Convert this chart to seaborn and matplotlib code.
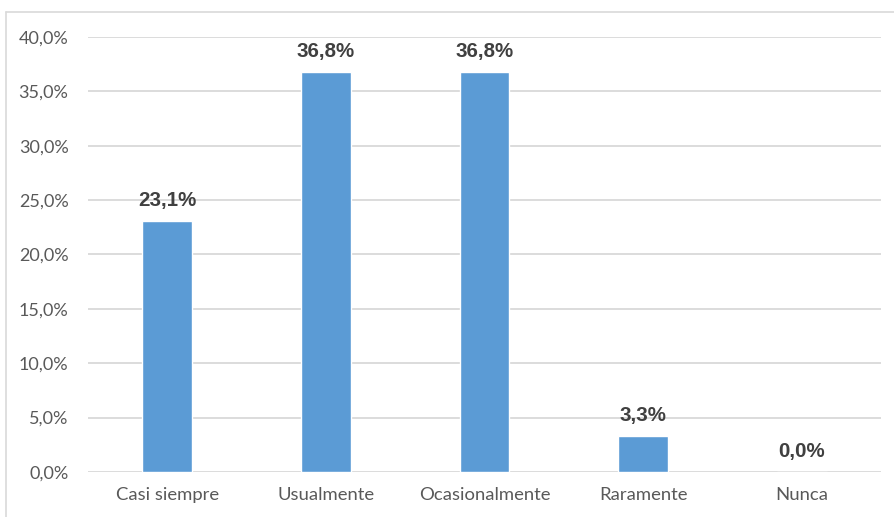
import matplotlib
matplotlib.use("Agg")
import matplotlib.pyplot as plt
import seaborn as sns
import pandas as pd
from matplotlib.lines import Line2D

categories = ["Casi siempre", "Usualmente", "Ocasionalmente", "Raramente", "Nunca"]
values = [0.231, 0.368, 0.368, 0.033, 0.0]
yticks = [0.0, 0.05, 0.10, 0.15, 0.20, 0.25, 0.30, 0.35, 0.40]

sns.set_theme(style="white")
plt.rcParams['font.family'] = ['Lato', 'DejaVu Sans']

df = pd.DataFrame({"cat": categories, "val": values})

fig = plt.figure(figsize=(8.94, 5.17), dpi=100)
ax = fig.add_axes([88/894, 45/517, (881-88)/894, (472-37)/517])

sns.barplot(data=df, x="cat", y="val", color="#5B9BD5", width=0.315,
            saturation=1, ax=ax, zorder=3)

ax.set_ylim(0, 0.4)
ax.set_xlim(-0.5, len(categories) - 0.5)
ax.set_yticks(yticks)
ax.set_yticklabels([f"{t*100:.1f}%".replace(".", ",") for t in yticks])
ax.set_xlabel("")
ax.set_ylabel("")
ax.yaxis.grid(True, color="#D9D9D9", linewidth=1.3, zorder=0)
ax.set_axisbelow(True)
for s in ax.spines.values():
    s.set_visible(False)
ax.tick_params(axis="both", length=0, labelsize=13, labelcolor="#595959")
ax.tick_params(axis="x", labelsize=13.3)
ax.tick_params(axis="y", pad=14)
ax.tick_params(axis="x", pad=11)

for i, v in enumerate(values):
    ax.annotate(f"{v*100:.1f}%".replace(".", ","), xy=(i, v), xytext=(0, 8),
                textcoords="offset points", ha="center", va="bottom",
                fontsize=14.8, fontweight="bold", color="#404040",
                family=["Liberation Sans", "DejaVu Sans"])

# outer chart border
fig.add_artist(Line2D([6/894, 6/894], [0, 1 - 12/517], transform=fig.transFigure,
                      color="#D9D9D9", linewidth=1.2))
fig.add_artist(Line2D([6/894, 1], [1 - 12/517, 1 - 12/517], transform=fig.transFigure,
                      color="#D9D9D9", linewidth=1.2))

fig.savefig("out.png", dpi=100)
